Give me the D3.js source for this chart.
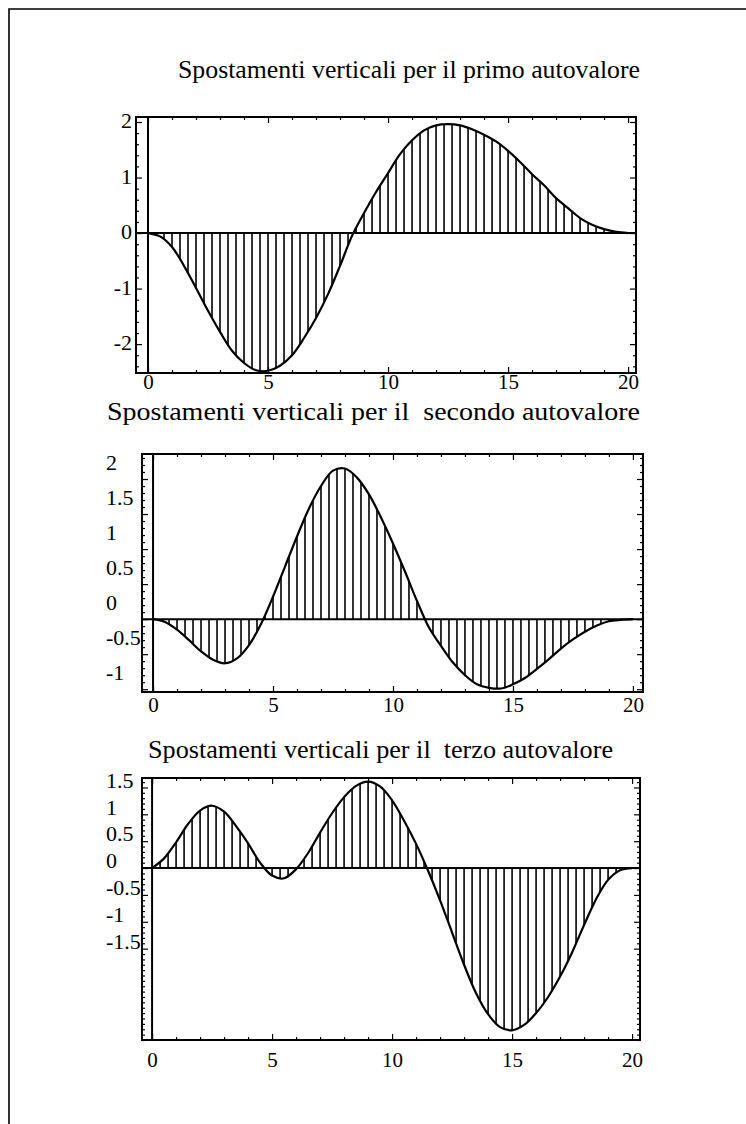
<!DOCTYPE html>
<html><head><meta charset="utf-8">
<script src="https://cdn.jsdelivr.net/npm/d3@7"></script>
<style>
body{margin:0;background:#fff;}
svg{display:block;}
text{font-family:"Liberation Serif","Times New Roman",serif;fill:#000;}
</style>
</head><body>
<svg id="c" width="746" height="1124"></svg>
<script>
// ---------------- data ----------------
const xSamples = [0,0.5,1,1.5,2,2.5,3,3.5,4,4.5,5,5.5,6,6.5,7,7.5,8,8.5,9,9.5,10,
                  10.5,11,11.5,12,12.5,13,13.5,14,14.5,15,15.5,16,16.5,17,17.5,18,18.5,19,19.5,20];
const mode1 = [0,-0.06,-0.25,-0.59,-0.99,-1.4,-1.78,-2.12,-2.34,-2.47,-2.48,-2.39,-2.2,-1.89,-1.53,-1.1,-0.59,-0.05,0.36,0.74,1.08,
               1.42,1.67,1.85,1.94,1.96,1.94,1.87,1.77,1.65,1.48,1.28,1.06,0.86,0.63,0.45,0.27,0.15,0.07,0.02,0];
const mode2 = [0,-0.04,-0.15,-0.3,-0.46,-0.58,-0.63,-0.56,-0.37,-0.07,0.32,0.75,1.18,1.58,1.9,2.12,2.15,2.02,1.78,1.45,1.08,
               0.68,0.26,-0.12,-0.38,-0.62,-0.8,-0.93,-0.98,-0.99,-0.93,-0.84,-0.71,-0.57,-0.42,-0.29,-0.18,-0.09,-0.03,-0.01,0];
const mode3 = [0,0.18,0.48,0.82,1.07,1.16,1.05,0.78,0.46,0.1,-0.14,-0.19,-0.02,0.28,0.66,1.02,1.32,1.53,1.61,1.52,1.26,
               0.88,0.45,-0.05,-0.6,-1.2,-1.8,-2.33,-2.72,-2.96,-3.02,-2.92,-2.7,-2.4,-2.02,-1.57,-1.06,-0.58,-0.22,-0.04,0];
const xTicks = [0,5,10,15,20];
const yTicks1 = [-2,-1,0,1,2];
const yTicks2 = [-1,-0.5,0,0.5,1,1.5,2];
const yTicks3 = [-1.5,-1,-0.5,0,0.5,1,1.5];
const titles = ["Spostamenti verticali per il primo autovalore",
                "Spostamenti verticali per il\u00a0 secondo autovalore",
                "Spostamenti verticali per il\u00a0 terzo autovalore"];

// ---------------- layout ----------------
const panels = [
  {vals:mode1, yTicks:yTicks1, title:titles[0], L:136, R:636, T:117, B:373, xd:[-0.5,20.33], yd:[-2.52,2.09],
   minorStep:0.2, labelAnchor:"end", labelX:132, labelDy:-2, xLabY:9,
   tX:178, tY:78, tLen:462, tSize:26},
  {vals:mode2, yTicks:yTicks2, title:titles[1], L:142, R:643, T:454, B:692, xd:[-0.46,20.42], yd:[-1.04,2.357],
   minorStep:0.1, labelAnchor:"start", labelX:106, labelDy:-17, xLabY:13,
   tX:107, tY:420, tLen:533, tSize:26},
  {vals:mode3, yTicks:yTicks3, title:titles[2], L:142, R:640, T:778, B:1040, xd:[-0.42,20.33], yd:[-3.2,1.676],
   minorStep:0.1, labelAnchor:"start", labelX:106, labelDy:-8, xLabY:20,
   tX:148, tY:758, tLen:465, tSize:26}
];

const svg = d3.select("#c");
svg.append("path").attr("d","M746,9H9V1124").attr("fill","none").attr("stroke","#000").attr("stroke-width",1.6);

const hatchX = d3.range(1,60).map(k=>k/3);
const curve = d3.curveCatmullRom.alpha(0.5);
const defs = svg.append("defs");

panels.forEach((p,i)=>{
  const g = svg.append("g");
  const x = d3.scaleLinear().domain(p.xd).range([p.L,p.R]);
  const y = d3.scaleLinear().domain(p.yd).range([p.B,p.T]);
  const pts = xSamples.map((d,j)=>[d,p.vals[j]]);

  const area = d3.area().x(d=>x(d[0])).y0(y(0)).y1(d=>y(d[1])).curve(curve);
  defs.append("clipPath").attr("id","clip"+i).append("path").attr("d",area(pts));

  g.append("g").attr("clip-path",`url(#clip${i})`)
    .selectAll("line").data(hatchX).join("line")
    .attr("x1",d=>x(d)).attr("x2",d=>x(d)).attr("y1",p.T).attr("y2",p.B)
    .attr("stroke","#000").attr("stroke-width",1.6);

  g.append("line").attr("x1",p.L).attr("x2",p.R).attr("y1",y(0)).attr("y2",y(0))
    .attr("stroke","#000").attr("stroke-width",2);
  g.append("line").attr("x1",x(0)).attr("x2",x(0)).attr("y1",p.T).attr("y2",p.B)
    .attr("stroke","#000").attr("stroke-width",2);

  g.append("path").attr("d",d3.line().x(d=>x(d[0])).y(d=>y(d[1])).curve(curve)(pts))
    .attr("fill","none").attr("stroke","#000").attr("stroke-width",2.2);

  g.append("rect").attr("x",p.L).attr("y",p.T).attr("width",p.R-p.L).attr("height",p.B-p.T)
    .attr("fill","none").attr("stroke","#000").attr("stroke-width",2);

  const yMinor = d3.range(Math.ceil(p.yd[0]/p.minorStep), Math.floor(p.yd[1]/p.minorStep)+1)
      .map(k=>+(k*p.minorStep).toFixed(2)).filter(v=>!p.yTicks.includes(v));
  const xMinor = d3.range(0,21).filter(v=>!xTicks.includes(v));
  const styleTicks = sel => { sel.select(".domain").remove(); sel.selectAll("line").attr("stroke","#000").attr("stroke-width",1.2); };

  g.append("g").attr("transform",`translate(${p.L},0)`).call(d3.axisLeft(y).tickValues(yMinor).tickSize(-3).tickFormat("")).call(styleTicks);
  g.append("g").attr("transform",`translate(${p.R},0)`).call(d3.axisRight(y).tickValues(yMinor).tickSize(-3).tickFormat("")).call(styleTicks);
  g.append("g").attr("transform",`translate(0,${p.T})`).call(d3.axisTop(x).tickValues(xMinor).tickSize(-3).tickFormat("")).call(styleTicks);
  g.append("g").attr("transform",`translate(0,${p.B})`).call(d3.axisBottom(x).tickValues(xMinor).tickSize(-3).tickFormat("")).call(styleTicks);

  g.append("g").attr("transform",`translate(${p.R},0)`).call(d3.axisRight(y).tickValues(p.yTicks).tickSize(-6).tickFormat("")).call(styleTicks);
  g.append("g").attr("transform",`translate(0,${p.T})`).call(d3.axisTop(x).tickValues(xTicks).tickSize(-6).tickFormat("")).call(styleTicks);

  const ya = g.append("g").attr("transform",`translate(${p.L},0)`)
    .call(d3.axisLeft(y).tickValues(p.yTicks).tickSize(-6).tickFormat(d=>String(d))).call(styleTicks);
  ya.attr("font-size",null).attr("font-family",null);
  ya.selectAll("text").attr("x",p.labelX-p.L).attr("y",p.labelDy).attr("dy","0.35em")
    .attr("text-anchor",p.labelAnchor).style("font-size","22px");

  const xa = g.append("g").attr("transform",`translate(0,${p.B})`)
    .call(d3.axisBottom(x).tickValues(xTicks).tickSize(-6).tickFormat(d=>String(d))).call(styleTicks);
  xa.attr("font-size",null).attr("font-family",null);
  xa.selectAll("text").attr("y",p.xLabY).attr("dy","0.35em").style("font-size","21px");

  svg.append("text").attr("x",p.tX).attr("y",p.tY).attr("textLength",p.tLen)
    .attr("lengthAdjust","spacingAndGlyphs").style("font-size",p.tSize+"px").text(p.title);
});
</script>
</body></html>
